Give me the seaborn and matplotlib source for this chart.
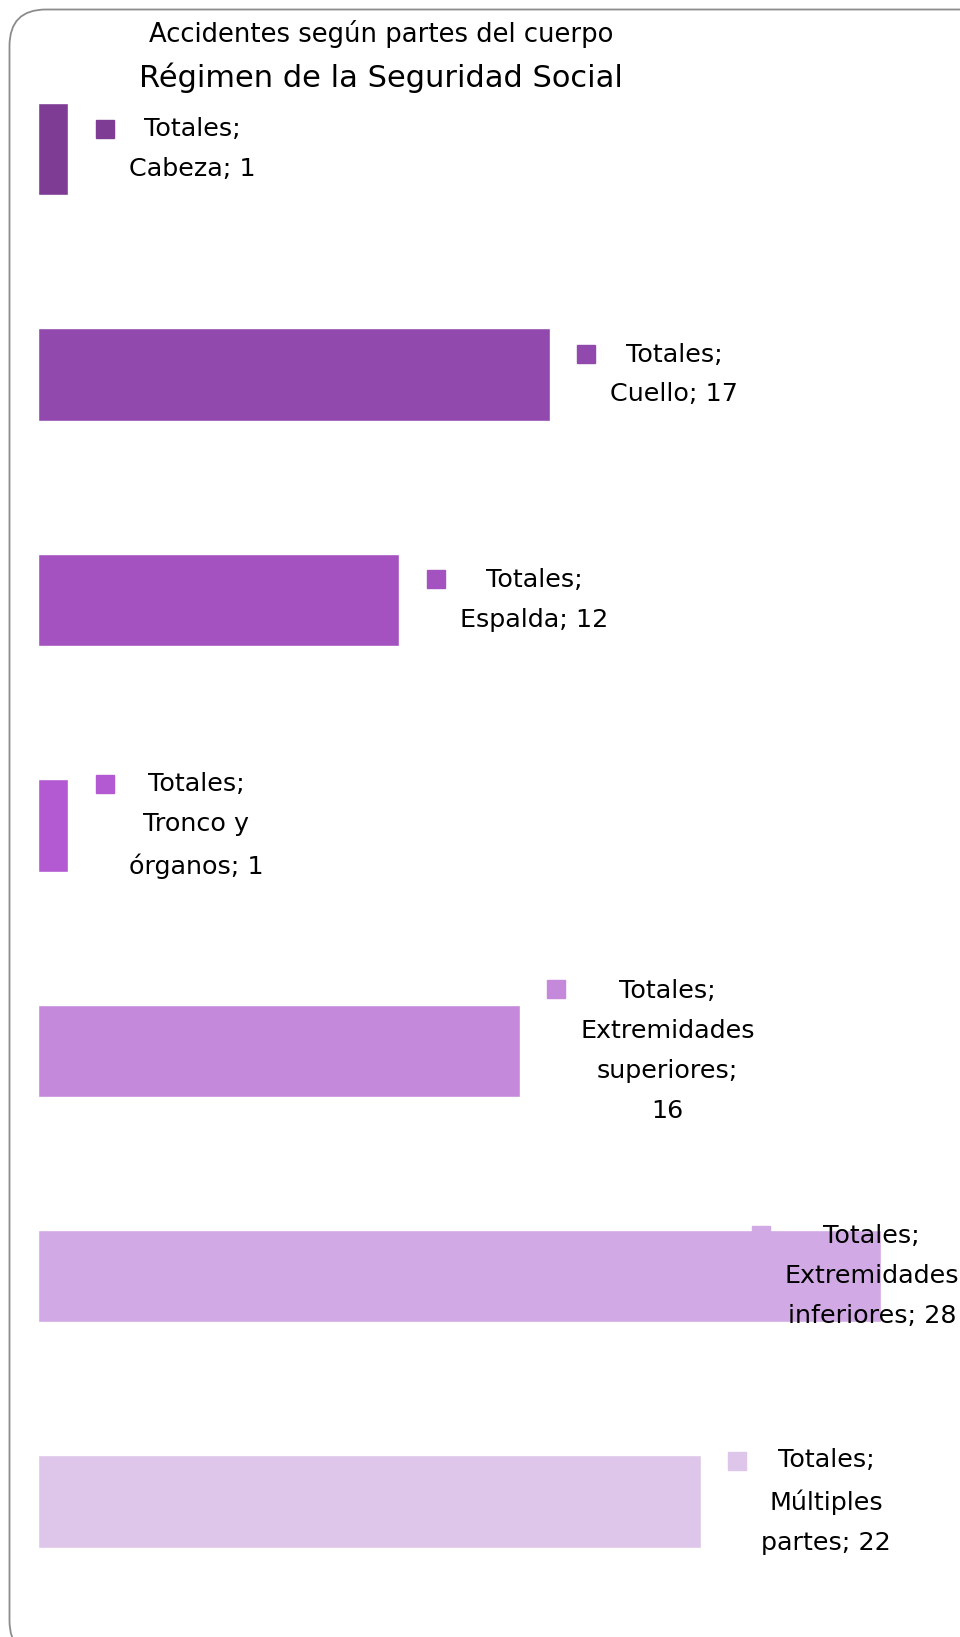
import matplotlib
matplotlib.use("Agg")
import matplotlib.pyplot as plt
import matplotlib.transforms as mtransforms
from matplotlib.patches import FancyBboxPatch
import seaborn as sns

# datos del gráfico
categorias = ["Cabeza", "Cuello", "Espalda", "Tronco y órganos",
              "Extremidades superiores", "Extremidades inferiores", "Múltiples partes"]
totales = [1, 17, 12, 1, 16, 28, 22]
etiquetas = ["Totales;\nCabeza; 1", "Totales;\nCuello; 17", "Totales;\nEspalda; 12",
             "Totales;\nTronco y\nórganos; 1", "Totales;\nExtremidades\nsuperiores;\n16",
             "Totales;\nExtremidades\ninferiores; 28", "Totales;\nMúltiples\npartes; 22"]
colores = ["#7e3c95", "#9249ad", "#a352bf", "#b35ad3", "#c489db", "#d1a9e4", "#dec6ea"]
titulo1 = "Accidentes según partes del cuerpo"
titulo2 = "Régimen de la Seguridad Social"

W, H = 960, 1637
sns.set_theme(style="white")
plt.rcParams['font.family'] = ['DejaVu Sans']

fig = plt.figure(figsize=(W / 100, H / 100), dpi=100)
fig.patch.set_facecolor("white")

# marco redondeado (se sale por la derecha y por abajo)
marco = FancyBboxPatch((9.5 / W, -20 / H), (W + 40) / W, (H - 9.5 + 20) / H,
                       boxstyle="round,pad=0,rounding_size=0.038",
                       transform=fig.transFigure, facecolor="none",
                       edgecolor="#8c8c8c", linewidth=1.3, mutation_aspect=W / H,
                       zorder=-1)
fig.patches.append(marco)

ax = fig.add_axes([38.0 / W, 0.01387, 903.5 / W, 0.9639])
ax.patch.set_alpha(0)
df = {"cat": categorias, "val": totales}
sns.barplot(x="val", y="cat", hue="cat", data=df, palette=colores, legend=False,
            orient="h", width=0.41, saturation=1, ax=ax)
ax.set_xlim(0, 30)
ax.set_ylim(6.5, -0.5)
ax.axis("off")

fig.text(381 / W, 1 - 33.5 / H, titulo1, ha="center", va="center", fontsize=18.6,
         color="black")
fig.text(381 / W, 1 - 77.5 / H, titulo2, ha="center", va="center", fontsize=22,
         color="black")

# etiquetas de datos con clave de leyenda
fs = 18.3
lsp = 41.0  # px entre líneas
fig.canvas.draw()
for i, (v, txt, c) in enumerate(zip(totales, etiquetas, colores)):
    n = txt.count("\n") + 1
    t = ax.text(v, i, txt, ha="left", va="center", multialignment="center",
                fontsize=fs, color="black", linespacing=1.84,
                transform=mtransforms.offset_copy(ax.transData, fig, x=60.5, y=0, units="dots"),
                zorder=5)
    fig.canvas.draw()
    bb = t.get_window_extent()
    shift = 0
    if bb.x1 > W - 1:
        shift = (W - 1) - bb.x1
        t.set_transform(mtransforms.offset_copy(ax.transData, fig, x=60.5 + shift, y=0,
                                                units="dots"))
    ax.plot([v], [i], marker="s", markersize=13.5, color=c, linestyle="none",
            transform=mtransforms.offset_copy(ax.transData, fig, x=36.5 + shift,
                                              y=(n - 1) / 2 * lsp, units="dots"),
            zorder=1 if shift else 4, clip_on=False)

fig.savefig("out.png", dpi=100, facecolor="white")
